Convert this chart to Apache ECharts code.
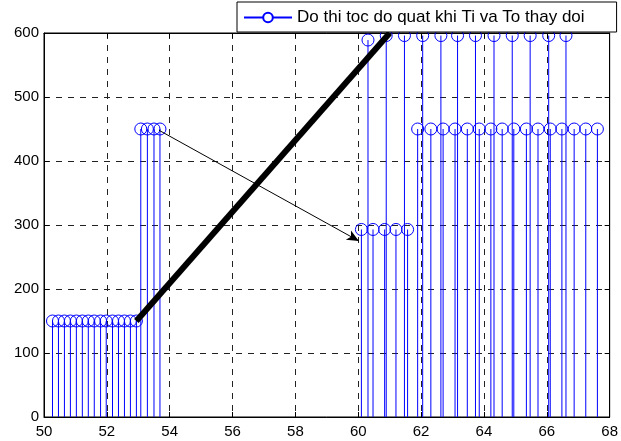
<!DOCTYPE html>
<html>
<head>
<meta charset="utf-8">
<script src="https://cdn.jsdelivr.net/npm/echarts@6/dist/echarts.min.js"></script>
<style>html,body{margin:0;padding:0;background:#fff}#c{width:621px;height:441px}</style>
</head>
<body>
<div id="c"></div>
<script>
// ---- data ----
const legendName = 'Do thi toc do quat khi Ti va To thay doi';
const xTicks = [50, 52, 54, 56, 58, 60, 62, 64, 66, 68];
const yTicks = [0, 100, 200, 300, 400, 500, 600];

const g1x = [50.27, 50.46, 50.65, 50.84, 51.03, 51.22, 51.41, 51.60, 51.80, 51.98, 52.18, 52.37, 52.56, 52.75, 52.94];
const g1y = [150, 150, 150, 150, 150, 150, 150, 150, 150, 150, 150, 150, 150, 150, 150];
const g2x = [53.08, 53.29, 53.50, 53.69];
const g2y = [450, 450, 450, 450];
const g3x = [60.10, 60.47, 60.84, 61.20, 61.57];
const g3y = [293, 293, 293, 293, 293];
const g4x = [60.31, 60.89, 61.47, 62.05, 62.63, 63.16, 63.73, 64.32, 64.90, 65.47, 66.06, 66.61];
const g4y = [589, 596, 596, 596, 596, 596, 596, 596, 596, 596, 596, 596];
const g5x = [61.89, 62.31, 62.70, 63.08, 63.47, 63.85, 64.22, 64.58, 64.95, 65.35, 65.72, 66.11, 66.48, 66.87, 67.24, 67.61];
const g5y = [450, 450, 450, 450, 450, 450, 450, 450, 450, 450, 450, 450, 450, 450, 450, 450];

const thickLineX = [52.94, 61.0];
const thickLineY = [150, 600];
const arrowX = [53.66, 60.02];
const arrowY = [448, 275];

// ---- build ----
const stems = [];
[[g1x, g1y], [g2x, g2y], [g3x, g3y], [g4x, g4y], [g5x, g5y]].forEach(([xs, ys]) => {
  xs.forEach((x, i) => stems.push([x, ys[i]]));
});
const thick = thickLineX.map((x, i) => [x, thickLineY[i]]);

const font = 'Liberation Sans, Arial, sans-serif';
const blue = '#0000ff';
const grid = {type: [6, 6], color: '#222', width: 1};

const chart = echarts.init(document.getElementById('c'), null, {renderer: 'canvas'});
chart.setOption({
  animation: false,
  backgroundColor: '#fff',
  grid: {left: 44, right: 8, top: 33, bottom: 24, show: true, borderColor: '#000', borderWidth: 1, backgroundColor: 'transparent'},
  legend: {
    data: [legendName],
    left: 237, top: 2,
    padding: [7, 32, 6, 6],
    itemWidth: 48, itemHeight: 12,
    backgroundColor: '#fff', borderColor: '#000', borderWidth: 1, borderRadius: 0,
    textStyle: {fontFamily: font, fontSize: 17, color: '#000'},
    z: 10
  },
  xAxis: [{
    type: 'value', min: xTicks[0], max: xTicks[xTicks.length - 1], interval: 2,
    axisLine: {show: true, onZero: false, lineStyle: {color: '#000'}},
    axisTick: {show: true, inside: true, length: 5, lineStyle: {color: '#000'}},
    axisLabel: {color: '#000', fontFamily: font, fontSize: 15, margin: 7},
    splitLine: {show: true, lineStyle: grid}
  }, {
    type: 'value', position: 'top', min: xTicks[0], max: xTicks[xTicks.length - 1], interval: 2,
    axisLine: {show: true, onZero: false, lineStyle: {color: '#000'}},
    axisTick: {show: true, inside: true, length: 5, lineStyle: {color: '#000'}},
    axisLabel: {show: false}, splitLine: {show: false}
  }],
  yAxis: [{
    type: 'value', min: yTicks[0], max: yTicks[yTicks.length - 1], interval: 100,
    axisLine: {show: true, onZero: false, lineStyle: {color: '#000'}},
    axisTick: {show: true, inside: true, length: 5, lineStyle: {color: '#000'}},
    axisLabel: {color: '#000', fontFamily: font, fontSize: 15, margin: 5},
    splitLine: {show: true, lineStyle: grid}
  }, {
    type: 'value', position: 'right', min: yTicks[0], max: yTicks[yTicks.length - 1], interval: 100,
    axisLine: {show: true, onZero: false, lineStyle: {color: '#000'}},
    axisTick: {show: true, inside: true, length: 5, lineStyle: {color: '#000'}},
    axisLabel: {show: false}, splitLine: {show: false}
  }],
  series: [
    {
      name: 'stems', type: 'custom', z: 3, clip: false,
      data: stems,
      renderItem: function (params, api) {
        const top = api.coord([api.value(0), api.value(1)]);
        const base = api.coord([api.value(0), 0]);
        return {type: 'group', children: [
          {type: 'line', shape: {x1: base[0], y1: base[1], x2: top[0], y2: top[1]}, style: {stroke: blue, lineWidth: 1}},
          {type: 'circle', shape: {cx: top[0], cy: top[1], r: 6}, style: {fill: null, stroke: blue, lineWidth: 1}}
        ]};
      }
    },
    {
      name: legendName, type: 'line', data: [],
      symbol: 'emptyCircle', symbolSize: 12,
      itemStyle: {color: blue, borderColor: blue}, lineStyle: {color: blue, width: 1}
    },
    {
      name: 'thick', type: 'line', data: thick, z: 5, clip: false,
      symbol: 'none', lineStyle: {color: '#000', width: 6, cap: 'butt'}
    },
    {
      name: 'arrow', type: 'line', data: [], z: 5,
      markLine: {
        silent: true, symbol: ['none', 'arrow'], symbolSize: [8, 12],
        label: {show: false},
        lineStyle: {color: '#000', width: 1, type: 'solid'},
        emphasis: {disabled: true},
        data: [[{coord: [arrowX[0], arrowY[0]]}, {coord: [arrowX[1], arrowY[1]]}]]
      }
    }
  ]
});
</script>
</body>
</html>
